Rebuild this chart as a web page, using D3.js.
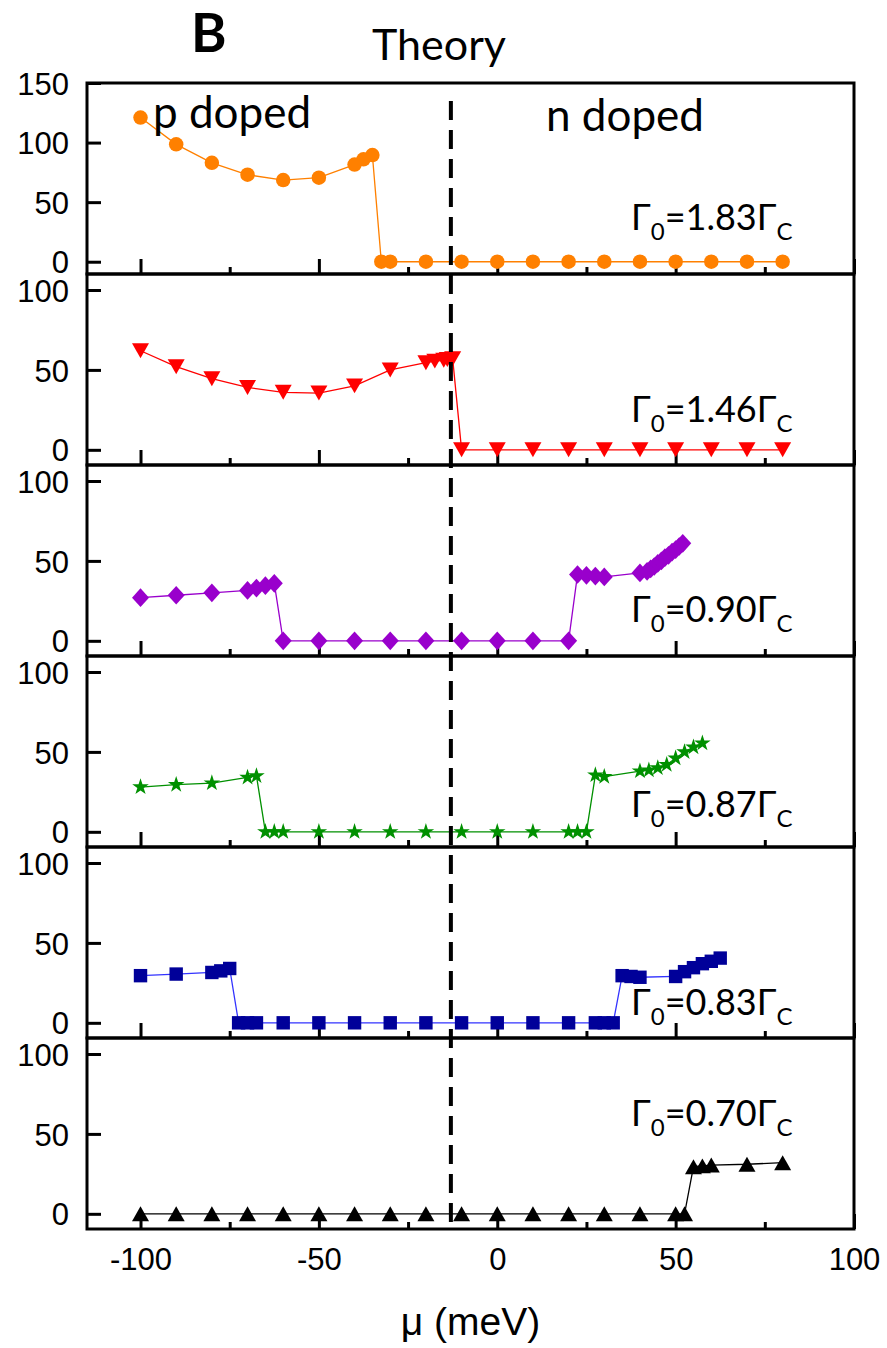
<!DOCTYPE html>
<html>
<head>
<meta charset="utf-8">
<script src="https://cdn.jsdelivr.net/npm/d3@7"></script>
<style>
  body { margin: 0; background: #fff; }
  .tick text { font-family: 'Liberation Sans', Arial, sans-serif; font-size: 31px; fill: #000; }
  .lbl { font-family: Lato, 'Open Sans', sans-serif; fill: #000; }
</style>
</head>
<body>
<div id="chart"></div>
<script>
// Chemical potential (meV) and value for each damping Γ0/ΓC
const mu183 = [-100, -90, -80, -70, -60, -50, -40, -37.5, -35, -32.5, -30, -20, -10, 0, 10, 20, 30, 40, 50, 60, 70, 80]
const val183 = [121, 98.5, 83, 73, 68.5, 70.5, 81.5, 86, 89.5, 0, 0, 0, 0, 0, 0, 0, 0, 0, 0, 0, 0, 0]

const mu146 = [-100, -90, -80, -70, -60, -50, -40, -30, -20, -17.5, -15, -14, -12.5, -10, 0, 10, 20, 30, 40, 50, 60, 70, 80]
const val146 = [62, 52, 44.5, 39, 36, 35.5, 40, 50, 54.5, 55.5, 56, 56.5, 57, 0, 0, 0, 0, 0, 0, 0, 0, 0, 0]

const mu090 = [-100, -90, -80, -70, -67.5, -65, -62.5, -60, -50, -40, -30, -20, -10, 0, 10, 20,
  22.5, 25, 27.5, 30, 40, 42, 43, 44, 45, 46, 47, 48, 49, 50, 51, 52]
const val090 = [27, 28.5, 30, 31.5, 33, 34.5, 36, 0, 0, 0, 0, 0, 0, 0, 0, 0,
  41.5, 41, 40.5, 40, 42.5, 43.5, 45, 46.5, 48.5, 50, 52, 53.5, 55.5, 57, 59, 61]

const mu087 = [-100, -90, -80, -70, -67.5, -65, -62.5, -60, -50, -40, -30, -20, -10, 0, 10, 20, 22.5, 25,
  27.5, 30, 40, 42.5, 45, 47.5, 50, 52.5, 55, 57.5]
const val087 = [28, 29.5, 30.5, 34, 35, 0, 0, 0, 0, 0, 0, 0, 0, 0, 0, 0, 0, 0,
  35.5, 34.5, 38, 38.5, 40, 42, 46, 50, 53, 55.5]

const mu083 = [-100, -90, -80, -77.5, -75, -72.5, -70, -67.5, -60, -50, -40, -30, -20, -10, 0, 10, 20, 27.5, 30, 32.5,
  35, 37.5, 40, 50, 52.5, 55, 57.5, 60, 62.5]
const val083 = [29.5, 30.5, 31.5, 32.5, 34, 0, 0, 0, 0, 0, 0, 0, 0, 0, 0, 0, 0, 0, 0, 0,
  29.5, 29, 28.5, 29, 32, 34.5, 37, 38.5, 40.5]

const mu070 = [-100, -90, -80, -70, -60, -50, -40, -30, -20, -10, 0, 10, 20, 30, 40, 50, 52.5, 55, 57.5, 60, 70, 80]
const val070 = [0, 0, 0, 0, 0, 0, 0, 0, 0, 0, 0, 0, 0, 0, 0, 0, 0, 29.5, 30, 30.5, 31, 32]

const ratios = ['1.83', '1.46', '0.90', '0.87', '0.83', '0.70']
const xTicks = [-100, -50, 0, 50, 100]
const xMinorTicks = [-75, -25, 25, 75]
const yTicksTop = [0, 50, 100, 150]
const yTicks = [0, 50, 100]
const neutralMu = -13

;(() => {
  // Vars for dimensions
  const width = 887
  const height = 1348
  const margin = { top: 83, left: 87, right: 33 }
  const panelHeight = 191

  // Custom symbols (bbox centred like the original plot)
  const diamond = {
    draw (ctx, size) {
      const r = Math.sqrt(size) / 2
      ctx.moveTo(0, -r * 1.1); ctx.lineTo(r, 0); ctx.lineTo(0, r * 1.1); ctx.lineTo(-r, 0); ctx.closePath()
    }
  }
  const triUp = {
    draw (ctx, size) {
      const r = Math.sqrt(size) / 2
      ctx.moveTo(0, -r * 0.88); ctx.lineTo(r, r * 0.88); ctx.lineTo(-r, r * 0.88); ctx.closePath()
    }
  }
  const triDown = {
    draw (ctx, size) {
      const r = Math.sqrt(size) / 2
      ctx.moveTo(-r, -r * 0.88); ctx.lineTo(r, -r * 0.88); ctx.lineTo(0, r * 0.88); ctx.closePath()
    }
  }

  const panels = [
    { mu: mu183, val: val183, color: '#ff8000', line: '#ff8000', symbol: d3.symbolCircle, size: 165, yDomain: [-10.3, 150], ticks: yTicksTop, labelY: 147 },
    { mu: mu146, val: val146, color: '#ff0000', line: '#ff0000', symbol: triDown, size: 289, yDomain: [-9.5, 110], ticks: yTicks, labelY: 148 },
    { mu: mu090, val: val090, color: '#9900cc', line: '#9900cc', symbol: diamond, size: 289, yDomain: [-9.5, 110], ticks: yTicks, labelY: 157 },
    { mu: mu087, val: val087, color: '#009000', line: '#009000', symbol: d3.symbolStar, size: 85, yDomain: [-9.5, 110], ticks: yTicks, labelY: 161 },
    { mu: mu083, val: val083, color: '#000099', line: '#3333ff', symbol: d3.symbolSquare, size: 180, yDomain: [-9.5, 110], ticks: yTicks, labelY: 168 },
    { mu: mu070, val: val070, color: '#000000', line: '#000000', symbol: triUp, size: 289, yDomain: [-9.5, 110], ticks: yTicks, labelY: 88 }
  ]

  const svg = d3.select('#chart')
    .append('svg')
    .attr('width', width)
    .attr('height', height)

  const x = d3.scaleLinear().domain([-115, 100]).range([margin.left, width - margin.right])

  panels.forEach((p, i) => {
    const top = margin.top + i * panelHeight
    const y = d3.scaleLinear().domain(p.yDomain).range([top + panelHeight, top])
    const data = p.mu.map((m, k) => ({ mu: m, v: p.val[k] }))
    const g = svg.append('g')

    // Bottom axis - major ticks, labels only on last panel
    g.append('g')
      .attr('transform', `translate(0, ${top + panelHeight})`)
      .call(d3.axisBottom(x).tickValues(xTicks).tickSize(-15).tickPadding(19)
        .tickFormat(i === panels.length - 1 ? d => d : ''))
      .call(a => a.select('.domain').remove())
      .call(a => a.selectAll('line').attr('stroke-width', 3))

    // Bottom axis - minor ticks
    g.append('g')
      .attr('transform', `translate(0, ${top + panelHeight})`)
      .call(d3.axisBottom(x).tickValues(xMinorTicks).tickSize(-7).tickFormat(''))
      .call(a => a.select('.domain').remove())
      .call(a => a.selectAll('line').attr('stroke-width', 3))

    // Left axis
    g.append('g')
      .attr('transform', `translate(${margin.left}, 0)`)
      .call(d3.axisLeft(y).tickValues(p.ticks).tickSize(-14).tickPadding(18).tickFormat(d => d))
      .call(a => a.select('.domain').remove())
      .call(a => a.selectAll('line').attr('stroke-width', 3))
      .call(a => a.selectAll('text').attr('dy', '0.36em'))

    // Frame
    g.append('rect')
      .attr('x', margin.left)
      .attr('y', top)
      .attr('width', width - margin.right - margin.left)
      .attr('height', panelHeight)
      .attr('fill', 'none')
      .attr('stroke', '#000')
      .attr('stroke-width', 3)

    // Connecting line
    g.append('path')
      .datum(data)
      .attr('fill', 'none')
      .attr('stroke', p.line)
      .attr('stroke-width', 1.3)
      .attr('d', d3.line().x(d => x(d.mu)).y(d => y(d.v)))

    // Markers
    g.selectAll('.pt')
      .data(data)
      .join('path')
      .attr('class', 'pt')
      .attr('transform', d => `translate(${x(d.mu)}, ${y(d.v)})`)
      .attr('fill', p.color)
      .attr('d', d3.symbol().type(p.symbol).size(p.size))

    // Γ0 label
    const t = g.append('text')
      .attr('class', 'lbl')
      .attr('x', 631)
      .attr('y', top + p.labelY)
      .attr('font-size', 36)
    t.append('tspan').text('Γ')
    t.append('tspan').attr('font-size', 24).attr('dy', 10).text('0')
    t.append('tspan').attr('dy', -10).text(`=${ratios[i]}Γ`)
    t.append('tspan').attr('font-size', 24).attr('dy', 10).text('C')
  })

  // Charge neutral point - dashed line
  svg.append('line')
    .attr('x1', x(neutralMu))
    .attr('x2', x(neutralMu))
    .attr('y1', 101)
    .attr('y2', margin.top + panels.length * panelHeight)
    .attr('stroke', '#000')
    .attr('stroke-width', 4)
    .attr('stroke-dasharray', '19 10')

  // Texts
  svg.append('text').attr('class', 'lbl').attr('x', 153).attr('y', 128).attr('font-size', 44).text('p doped')
  svg.append('text').attr('class', 'lbl').attr('x', 546).attr('y', 131).attr('font-size', 44).text('n doped')
  svg.append('text').attr('class', 'lbl').attr('x', 439).attr('y', 60).attr('text-anchor', 'middle').attr('font-size', 43).text('Theory')
  svg.append('text').attr('class', 'lbl').attr('x', 191).attr('y', 52).attr('font-size', 54).attr('font-weight', 'bold').text('B')

  // Axis title
  svg.append('text')
    .attr('x', (margin.left + width - margin.right) / 2)
    .attr('y', 1335)
    .attr('text-anchor', 'middle')
    .attr('font-family', "'Liberation Sans', Arial, sans-serif")
    .attr('font-size', 39)
    .text('μ (meV)')
})()
</script>
</body>
</html>
